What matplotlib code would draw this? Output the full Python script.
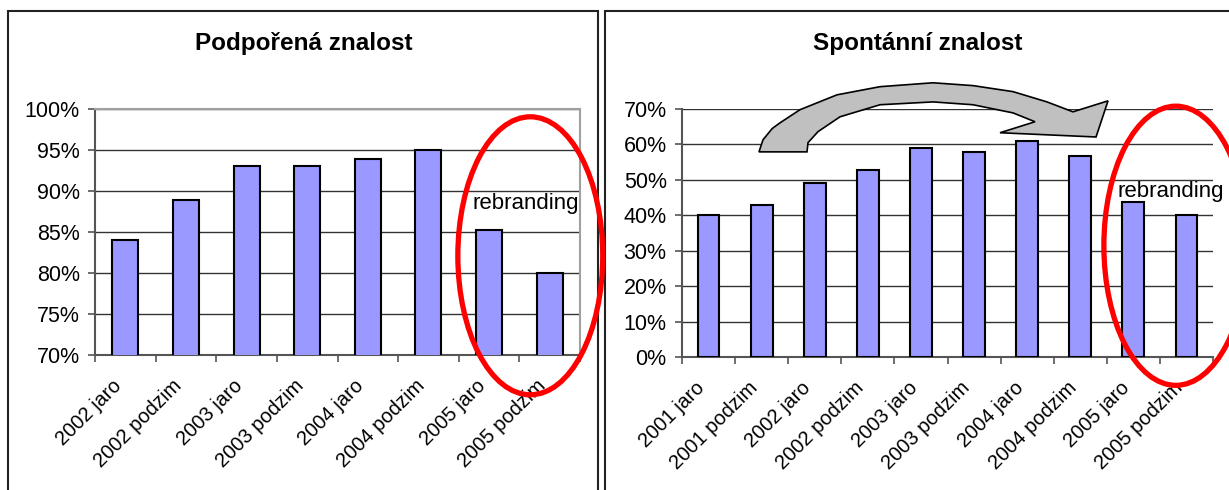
import numpy as np
import matplotlib
matplotlib.use('Agg')
import matplotlib.pyplot as plt
from matplotlib.patches import Rectangle, Ellipse, Polygon
from matplotlib.ticker import FuncFormatter

plt.rcParams['font.family'] = ['Liberation Sans', 'DejaVu Sans']

# Podpořená znalost
podp_labels = ['2002 jaro', '2002 podzim', '2003 jaro', '2003 podzim',
               '2004 jaro', '2004 podzim', '2005 jaro', '2005 podzim']
podp_values = [84.0, 88.9, 93.0, 93.0, 93.9, 95.0, 85.3, 80.0]

# Spontánní znalost
spont_labels = ['2001 jaro', '2001 podzim', '2002 jaro', '2002 podzim',
                '2003 jaro', '2003 podzim', '2004 jaro', '2004 podzim',
                '2005 jaro', '2005 podzim']
spont_values = [40.2, 42.8, 49.0, 52.7, 58.9, 58.0, 61.0, 56.8, 43.7, 40.2]

BAR = '#9999ff'
GRID = '#333333'
AXC = '#555555'

fig = plt.figure(figsize=(12.29, 4.90), dpi=100)

# ramecky kolem obou grafu
fig.add_artist(Rectangle((8 / 1229, -0.1), 590 / 1229, 1.1 - 11 / 490,
                         transform=fig.transFigure, fill=False,
                         edgecolor='#222222', lw=1.5, zorder=-1))
fig.add_artist(Rectangle((605 / 1229, -0.1), 0.6, 1.1 - 11 / 490,
                         transform=fig.transFigure, fill=False,
                         edgecolor='#222222', lw=1.5, zorder=-1))

pct = FuncFormatter(lambda v, p: '{:.0f}%'.format(v))


def bar_chart(ax, labels, values, width):
    n = len(labels)
    x = np.arange(n)
    ax.bar(x, values, width=width, color=BAR, edgecolor='black', lw=1.5, zorder=3)
    ax.set_xlim(-0.5, n - 0.5)
    ax.set_xticks(x)
    ax.set_xticklabels(labels, rotation=45, ha='right', va='top', fontsize=14.5)
    ax.set_xticks(np.arange(n + 1) - 0.5, minor=True)
    ax.tick_params(axis='x', which='major', length=0, pad=15)
    ax.tick_params(axis='x', which='minor', length=5, width=1.2, color=AXC)
    ax.tick_params(axis='y', length=5, width=1.2, color=AXC, labelsize=15.5, pad=6)
    ax.yaxis.set_major_formatter(pct)
    ax.yaxis.grid(True, color=GRID, lw=1)
    ax.set_axisbelow(True)
    for s in ['left', 'bottom']:
        ax.spines[s].set_color(AXC)
        ax.spines[s].set_linewidth(1.5)


# levy graf
ax1 = fig.add_axes([95 / 1229, 135 / 490, 485 / 1229, 246 / 490])
bar_chart(ax1, podp_labels, podp_values, 0.43)
ax1.set_ylim(70, 100)
ax1.set_yticks(np.arange(70, 101, 5))
for s in ['top', 'right']:
    ax1.spines[s].set_color('#a0a0a0')
    ax1.spines[s].set_linewidth(1.5)
fig.text(304 / 1229, 1 - 50 / 490, 'Podpořená znalost', ha='center',
         va='baseline', fontsize=17.5, fontweight='bold')
ax1.text(5.72, 87.8, 'rebranding', fontsize=16, va='baseline', zorder=6)
ax1.add_patch(Ellipse((6.68, 82.1), 2.39, 33.9, fill=False, edgecolor='#ff0000',
                      lw=3.8, clip_on=False, zorder=7))

# pravy graf
ax2 = fig.add_axes([682 / 1229, 133 / 490, 531 / 1229, 248 / 490])
bar_chart(ax2, spont_labels, spont_values, 0.41)
ax2.set_ylim(0, 70)
ax2.set_yticks(np.arange(0, 71, 10))
ax2.spines['top'].set_visible(False)
ax2.spines['right'].set_visible(False)
fig.text(918 / 1229, 1 - 50 / 490, 'Spontánní znalost', ha='center',
         va='baseline', fontsize=17.5, fontweight='bold')
ax2.text(7.71, 45.2, 'rebranding', fontsize=16, va='baseline', zorder=6)
ax2.add_patch(Ellipse((8.80, 31.4), 2.71, 78.8, fill=False, edgecolor='#ff0000',
                      lw=3.8, clip_on=False, zorder=7))

# zahnuta sipka nad sloupci
outer = [(0.950, 57.9), (1.025, 61.3), (1.20, 64.5), (1.346, 66.1), (1.722, 69.8),
         (2.419, 74.0), (3.229, 76.3), (4.227, 77.4), (4.980, 76.6),
         (5.734, 74.9), (6.374, 72.0), (6.863, 69.2)]
head = [(7.523, 72.3), (7.297, 62.1), (5.489, 63.3), (6.148, 66.4)]
inner = [(5.734, 68.9), (4.980, 71.2), (4.227, 72.0), (3.229, 71.2),
         (2.476, 67.8), (2.061, 63.6), (1.873, 60.5), (1.854, 57.9)]
ax2.add_patch(Polygon(outer + head + inner, closed=True, facecolor='#c0c0c0',
                      edgecolor='black', lw=1.2, clip_on=False, zorder=5))

fig.savefig('out.png', dpi=100)
